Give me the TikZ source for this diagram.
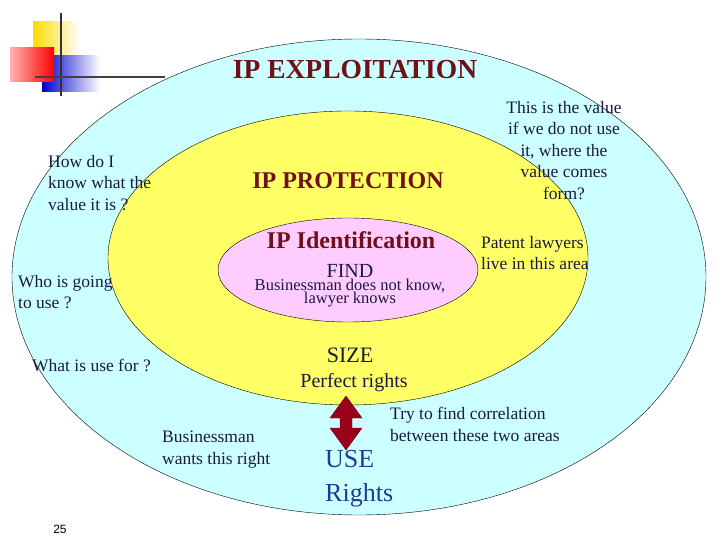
\documentclass[tikz,border=0pt]{standalone}
\usepackage{fontspec}
\setmainfont{Liberation Serif}
\setsansfont{Liberation Sans}
\usetikzlibrary{shapes.geometric,fadings}
\definecolor{cyanfill}{HTML}{CCFFFF}
\definecolor{yelfill}{HTML}{FFFF66}
\definecolor{pinkfill}{HTML}{FFCCFF}
\definecolor{maroon}{HTML}{701018}
\definecolor{navy}{HTML}{1A1A40}
\definecolor{usecol}{HTML}{1F3A93}
\definecolor{arrowred}{HTML}{99001A}
\begin{document}
\begin{tikzpicture}[x=1pt,y=-1pt,
  title/.style={text=maroon,font=\bfseries\fontsize{#1}{#1}\selectfont,inner sep=0},
  body/.style={text=navy,font=\fontsize{17.5}{21.5}\selectfont,align=left,inner sep=0},
  cbody/.style={text=navy,font=\fontsize{#1}{#1}\selectfont,align=center,inner sep=0}]
\useasboundingbox (0,0) rectangle (720,540);
\fill[white] (0,0) rectangle (720,540);
% corner decoration
\fill[yellow!80!orange,path fading=east] (33,21) rectangle (80,55);
\fill[blue!80!black,path fading=east] (42,55) rectangle (100,92);
\shade[left color=red!30,right color=red] (10,48) rectangle (54,82);
\draw[line width=2.5pt,black!80] (61,13) -- (61,96);
\draw[line width=2.5pt,black!75] (35,77) -- (165,77);
% ellipses
\node[draw=black,fill=cyanfill,ellipse,minimum width=694pt,minimum height=476pt,inner sep=0] (outer) at (359,277) {};
\node[draw=black,fill=yelfill,ellipse,minimum width=480pt,minimum height=294pt,inner sep=0] (mid) at (348,258) {};
\node[draw=black,fill=pinkfill,ellipse,minimum width=260pt,minimum height=104pt,inner sep=0] (inner) at (348,270) {};
% titles
\node[title=27.5] (t1) at (355,70) {IP EXPLOITATION};
\node[title=24] (t2) at (348,181) {IP PROTECTION};
\node[title=24] (t3) at (351,240) {IP Identification};
\node[cbody=20] (find) at (350,271) {FIND};
\node[cbody=16.5] (bus) at (350,293) {Businessman does not know,\\[-4pt]lawyer knows};
\node[cbody=22] (size) at (350,355) {SIZE};
\node[cbody=20] (perf) at (354,383) {Perfect rights};
% side texts
\node[body,anchor=north west] (q1) at (48,155) {How do I\\know what the\\value it is ?};
\node[body,anchor=north west] (q2) at (18,275) {Who is going\\to use ?};
\node[body,anchor=north west] (q3) at (32,359) {What is use for ?};
\node[body,anchor=north west] (bw) at (162,431) {Businessman\\wants this right};
\node[body,align=center,anchor=north] (val) at (564,101) {This is the value\\if we do not use\\it, where the\\value comes\\form?};
\node[body,anchor=north west] (pat) at (481,236) {Patent lawyers\\live in this area};
\node[body,anchor=north west] (try) at (390,407) {Try to find correlation\\between these two areas};
\node[text=usecol,font=\fontsize{26}{34}\selectfont,align=left,anchor=north west,inner sep=0] (use) at (325,450) {USE\\Rights};
\node[font=\sffamily\fontsize{12}{12}\selectfont,inner sep=0] (pg) at (60,529) {25};
% arrow
\fill[arrowred,draw=arrowred!70!black] (346,396) -- (362,418) -- (352,418) -- (352,428) -- (362,428)
  -- (346,450) -- (330,428) -- (340,428) -- (340,418) -- (330,418) -- cycle;
\end{tikzpicture}
\end{document}
